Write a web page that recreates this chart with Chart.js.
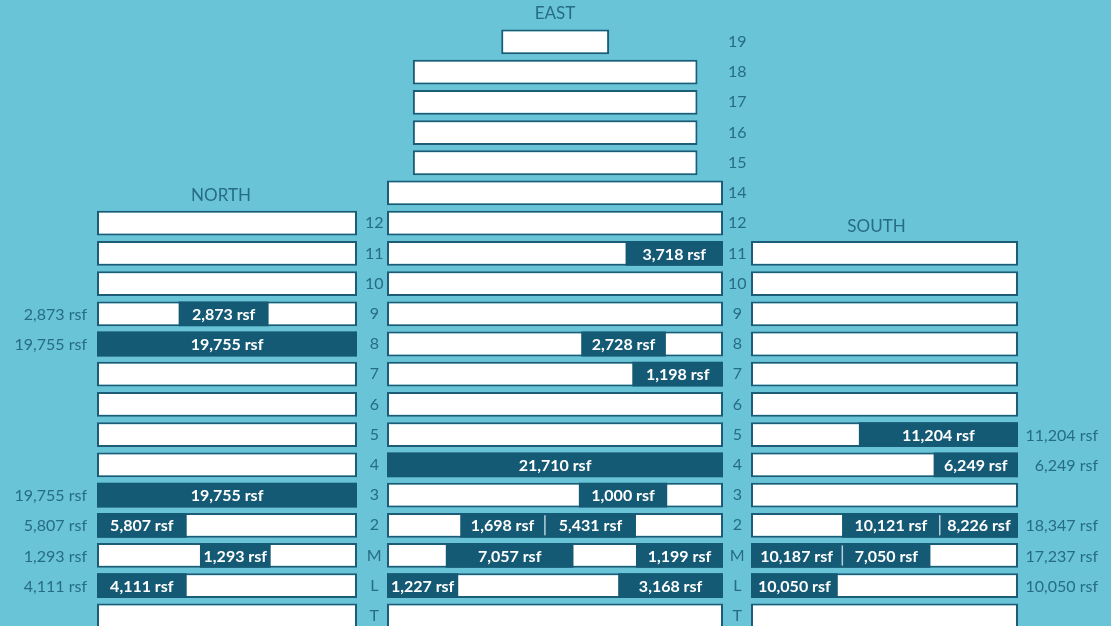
<!DOCTYPE html>
<html>
<head>
<meta charset="utf-8">
<script src="https://cdn.jsdelivr.net/npm/chart.js@4.4.1/dist/chart.umd.min.js"></script>
<style>
html, body { margin: 0; padding: 0; background: #68c4d6; overflow: hidden; }
#wrap { position: relative; width: 1111px; height: 626px; overflow: hidden; background: #68c4d6; }
#wrap canvas { position: absolute; top: 0; }
</style>
</head>
<body>
<div id="wrap">
  <canvas id="north" width="390" height="660" style="left:0px"></canvas>
  <canvas id="east" width="380" height="660" style="left:380px"></canvas>
  <canvas id="south" width="371" height="660" style="left:740px"></canvas>
</div>
<script>
// ---------------- DATA ----------------
const floors = ['19','18','17','16','15','14','12','11','10','9','8','7','6','5','4','3','2','M','L','T'];

// Floor plate extent on each floor, as % of the building's widest floor plate (null = no such floor)
const F = [0, 100];
const northPlates = [null, null, null, null, null, null, F, F, F, F, F, F, F, F, F, F, F, F, F, F];
const eastPlates  = [[34.0, 66.1], [7.7, 92.4], [7.7, 92.4], [7.7, 92.4], [7.7, 92.4], F, F, F, F, F, F, F, F, F, F, F, F, F, F, F];
const southPlates = [null, null, null, null, null, null, null, F, F, F, F, F, F, F, F, F, F, F, F, F];

// Available suites: [floor, start %, end %, rentable sq ft]
const northSuites = [
  ['9', 31.4, 66.0, 2873],
  ['8', 0, 100, 19755],
  ['3', 0, 100, 19755],
  ['2', 0, 34.5, 5807],
  ['M', 39.6, 66.8, 1293],
  ['L', 0, 34.5, 4111]
];
const eastSuites = [
  ['11', 71.0, 100, 3718],
  ['8', 57.8, 83.0, 2728],
  ['7', 73.0, 100, 1198],
  ['4', 0, 100, 21710],
  ['3', 57.1, 83.4, 1000],
  ['2', 21.8, 47.0, 1698],
  ['2', 47.0, 74.1, 5431],
  ['M', 17.5, 55.5, 7057],
  ['M', 74.1, 100, 1199],
  ['L', 0, 21.2, 1227],
  ['L', 68.8, 100, 3168]
];
const southSuites = [
  ['5', 40.4, 100, 11204],
  ['4', 68.4, 100, 6249],
  ['2', 34.1, 70.7, 10121],
  ['2', 70.7, 100, 8226],
  ['M', 0, 34.2, 10187],
  ['M', 34.2, 67.2, 7050],
  ['L', 0, 32.5, 10050]
];

const buildingNames = ['NORTH', 'EAST', 'SOUTH'];

// ---------------- STYLE ----------------
const DARK = '#155a75';
const TEXT = '#276c86';
const PLATE_BORDER = '#1d5c77';
const DIVIDER = '#b3d0dc';
const FONT = 'Lato, "Open Sans", sans-serif';

const fmt = v => v.toLocaleString('en-US');

const planPlugin = {
  id: 'plan',
  afterDatasetsDraw(chart, args, o) {
    const ctx = chart.ctx, area = chart.chartArea;
    const xs = chart.scales.x, ys = chart.scales.y;
    const suites = o.suites;
    ctx.save();
    // dividers between adjoining suites
    suites.forEach(s => {
      if (suites.some(t => t !== s && t[0] === s[0] && t[1] === s[2])) {
        const px = xs.getPixelForValue(s[2]);
        const py = ys.getPixelForValue(floors.indexOf(s[0]));
        ctx.strokeStyle = DIVIDER;
        ctx.lineWidth = 1.5;
        ctx.beginPath();
        ctx.moveTo(px, py - 10);
        ctx.lineTo(px, py + 10);
        ctx.stroke();
      }
    });
    // suite labels
    const meta = chart.getDatasetMeta(0);
    ctx.font = 'bold 16px ' + FONT;
    ctx.fillStyle = '#ffffff';
    ctx.textAlign = 'center';
    ctx.textBaseline = 'middle';
    meta.data.forEach((el, i) => {
      const s = suites[i];
      ctx.fillText(fmt(s[3]) + ' rsf', (el.x + el.base) / 2, el.y + 1);
    });
    // floor totals
    if (o.totals) {
      const totals = {};
      suites.forEach(s => { totals[s[0]] = (totals[s[0]] || 0) + s[3]; });
      ctx.font = '16px ' + FONT;
      ctx.fillStyle = TEXT;
      ctx.textAlign = 'right';
      Object.keys(totals).forEach(f => {
        const py = ys.getPixelForValue(floors.indexOf(f));
        const px = o.totals.side === 'left' ? area.left - o.totals.gap : area.right + o.totals.gap;
        ctx.fillText(fmt(totals[f]) + ' rsf', px, py + 1);
      });
    }
    // building name
    if (o.title) {
      ctx.font = '17px ' + FONT;
      ctx.fillStyle = TEXT;
      ctx.textAlign = 'center';
      const py = ys.getPixelForValue(o.title.row);
      ctx.fillText(o.title.text, (area.left + area.right) / 2 + o.title.dx, py + o.title.dy);
    }
    ctx.restore();
  }
};

function makeChart(id, plates, suites, cfg) {
  return new Chart(document.getElementById(id), {
    type: 'bar',
    data: {
      labels: floors,
      datasets: [
        {
          label: 'Available',
          data: suites.map(s => ({ y: s[0], x: [s[1], s[2]] })),
          backgroundColor: DARK,
          borderWidth: 0,
          order: 0,
          grouped: false,
          categoryPercentage: 1,
          barPercentage: 0.82
        },
        {
          label: 'Floor plate',
          data: plates,
          backgroundColor: '#ffffff',
          borderColor: PLATE_BORDER,
          borderWidth: 2,
          borderSkipped: false,
          order: 1,
          grouped: false,
          categoryPercentage: 1,
          barPercentage: 0.82
        }
      ]
    },
    options: {
      indexAxis: 'y',
      responsive: false,
      animation: false,
      events: [],
      layout: { padding: cfg.padding },
      plugins: {
        legend: { display: false },
        tooltip: { enabled: false },
        plan: { suites: suites, totals: cfg.totals, title: cfg.title }
      },
      scales: {
        x: { type: 'linear', min: 0, max: 100, display: false },
        y: {
          type: 'category',
          position: 'right',
          offset: true,
          display: cfg.showFloors,
          grid: { display: false, drawTicks: false },
          border: { display: false },
          ticks: {
            autoSkip: false,
            padding: cfg.tickPad,
            crossAlign: 'center',
            color: TEXT,
            font: { family: FONT, size: 16 },
            callback: (v, i) => plates[i] ? floors[i] : ''
          },
          afterFit: s => { s.width = cfg.axisWidth; }
        }
      }
    },
    plugins: [planPlugin]
  });
}

function draw() {
  makeChart('north', northPlates, northSuites, {
    padding: { left: 97, right: 0, top: 26.8, bottom: 29 },
    showFloors: true, axisWidth: 33, tickPad: 8,
    totals: { side: 'left', gap: 10 },
    title: { text: buildingNames[0], row: floors.indexOf('14'), dx: -6, dy: 2.5 }
  });
  makeChart('east', eastPlates, eastSuites, {
    padding: { left: 7, right: 0, top: 26.8, bottom: 29 },
    showFloors: true, axisWidth: 37, tickPad: 5,
    totals: null,
    title: { text: buildingNames[1], row: -1, dx: 0, dy: 1.5 }
  });
  makeChart('south', southPlates, southSuites, {
    padding: { left: 11, right: 93, top: 26.8, bottom: 29 },
    showFloors: false, axisWidth: 0, tickPad: 0,
    totals: { side: 'right', gap: 80 },
    title: { text: buildingNames[2], row: floors.indexOf('12'), dx: -8, dy: 3.5 }
  });
}

Promise.all([
  document.fonts.load('16px Lato'),
  document.fonts.load('bold 16px Lato')
]).then(draw, draw);
</script>
</body>
</html>
